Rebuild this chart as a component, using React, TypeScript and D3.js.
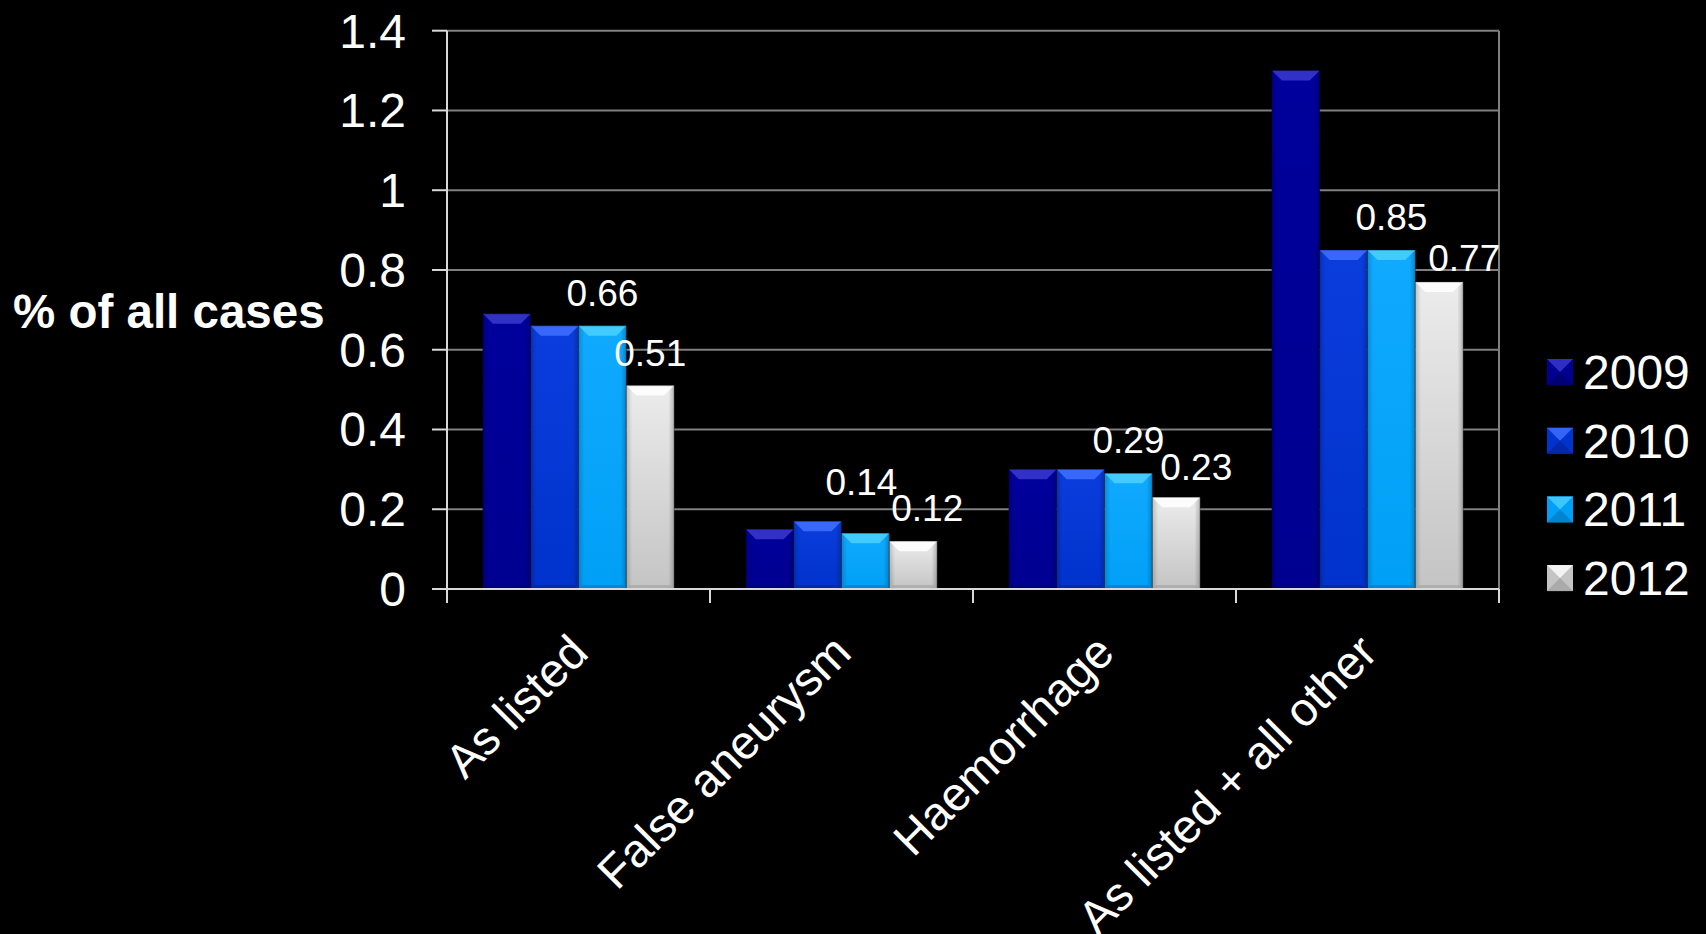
import React from "react";
import * as d3 from "d3";

const categories = ["As listed", "False aneurysm", "Haemorrhage", "As listed + all other"];
const seriesNames = ["2009", "2010", "2011", "2012"];
const values2009 = [0.69, 0.15, 0.3, 1.3];
const values2010 = [0.66, 0.17, 0.3, 0.85];
const values2011 = [0.66, 0.14, 0.29, 0.85];
const values2012 = [0.51, 0.12, 0.23, 0.77];
const yTicks = [0, 0.2, 0.4, 0.6, 0.8, 1, 1.2, 1.4];
const labelledSeries = ["2011", "2012"];
const yTitle = "% of all cases";

// layout / style constants (not data)
const W = 1706;
const H = 934;
const plotLeft = 447;
const plotRight = 1499;
const plotTop = 30.7;
const plotBottom = 589;
const FONT = "'Liberation Sans', Arial, Helvetica, sans-serif";
const seriesStyle: Record<string, { top: string; main: string; dark: string; bevel: string }> = {
  "2009": { top: "#00009c", main: "#000090", dark: "#00006a", bevel: "#3a3ad0" },
  "2010": { top: "#0a3ddc", main: "#0033cc", dark: "#00239a", bevel: "#4070ff" },
  "2011": { top: "#10aaff", main: "#00a0f6", dark: "#0078c0", bevel: "#4cd0ff" },
  "2012": { top: "#ececec", main: "#c4c4c4", dark: "#a0a0a0", bevel: "#ffffff" },
};
// manual nudges of a few data labels, as in the reference [series][category] -> [dx, dy]
const labelNudge: Record<string, [number, number][]> = {
  "2011": [[0, 0], [-4, -18], [0, 0], [0, 0]],
  "2012": [[0, 0], [14, 0], [20, 3], [25, 9]],
};

export default function App() {
  const seriesValues = [values2009, values2010, values2011, values2012];
  const x0 = d3.scaleBand<string>().domain(categories).range([plotLeft, plotRight]).padding(0);
  const x1 = d3
    .scaleBand<string>()
    .domain(seriesNames)
    .range([0, x0.bandwidth()])
    .paddingInner(0)
    .paddingOuter(0.75);
  const y = d3.scaleLinear().domain([0, 1.4]).range([plotBottom, plotTop]);
  const bw = x1.bandwidth();
  const bev = 10;

  return (
    <svg
      width={W}
      height={H}
      style={{ position: "absolute", left: 0, top: 0, background: "#000" }}
      fontFamily={FONT}
    >
      <defs>
        {seriesNames.map((s) => {
          const st = seriesStyle[s];
          return (
            <linearGradient key={s} id={`g${s}`} x1="0" y1="0" x2="0" y2="1">
              <stop offset="0" stopColor={st.top} />
              <stop offset="1" stopColor={st.main} />
            </linearGradient>
          );
        })}
        <linearGradient id="gside" x1="0" y1="0" x2="1" y2="0">
          <stop offset="0" stopColor="#000" stopOpacity={0.18} />
          <stop offset="0.12" stopColor="#000" stopOpacity={0} />
          <stop offset="0.88" stopColor="#000" stopOpacity={0} />
          <stop offset="1" stopColor="#000" stopOpacity={0.22} />
        </linearGradient>
      </defs>
      <rect x={0} y={0} width={W} height={H} fill="#000" />

      {/* gridlines */}
      {yTicks.map((t) => (
        <line key={t} x1={plotLeft} x2={plotRight} y1={y(t)} y2={y(t)} stroke="#7f7f7f" strokeWidth={2} />
      ))}
      <line x1={plotRight} x2={plotRight} y1={plotTop} y2={plotBottom} stroke="#7f7f7f" strokeWidth={2} />

      {/* bars */}
      {categories.map((c, ci) => (
        <g key={c}>
          {seriesNames.map((s, si) => {
            const v = seriesValues[si][ci];
            const bx = (x0(c) as number) + (x1(s) as number);
            const by = y(v);
            const bh = plotBottom - by;
            const st = seriesStyle[s];
            const b = Math.min(bev, bh / 2);
            return (
              <g key={s}>
                <rect x={bx} y={by} width={bw} height={bh} fill={`url(#g${s})`} />
                <rect x={bx} y={by} width={bw} height={bh} fill="url(#gside)" />
                <polygon
                  points={`${bx},${by} ${bx + bw},${by} ${bx + bw - b},${by + b} ${bx + b},${by + b}`}
                  fill={st.bevel}
                  opacity={0.85}
                />
                <polygon
                  points={`${bx},${plotBottom} ${bx + bw},${plotBottom} ${bx + bw - 4},${plotBottom - 4} ${bx + 4},${plotBottom - 4}`}
                  fill={st.dark}
                  opacity={0.6}
                />
                <rect x={bx} y={by} width={bw} height={bh} fill="none" stroke="#000" strokeOpacity={0.35} strokeWidth={1} />
              </g>
            );
          })}
        </g>
      ))}

      {/* data labels */}
      {categories.map((c, ci) =>
        seriesNames.map((s, si) => {
          if (!labelledSeries.includes(s)) return null;
          const v = seriesValues[si][ci];
          const [dx, dy] = labelNudge[s][ci];
          const cx = (x0(c) as number) + (x1(s) as number) + bw / 2;
          return (
            <text
              key={`${c}-${s}`}
              x={cx + dx}
              y={y(v) - 20 + dy}
              fill="#fff"
              fontSize={37}
              textAnchor="middle"
            >
              {d3.format(".2f")(v)}
            </text>
          );
        })
      )}

      {/* axes */}
      <line x1={plotLeft} x2={plotLeft} y1={plotTop} y2={plotBottom} stroke="#d9d9d9" strokeWidth={2} />
      {yTicks.map((t) => (
        <g key={t}>
          <line x1={plotLeft - 15} x2={plotLeft} y1={y(t)} y2={y(t)} stroke="#d9d9d9" strokeWidth={2} />
          <text x={406} y={y(t) + 17} fill="#fff" fontSize={48} textAnchor="end">
            {d3.format("~g")(t)}
          </text>
        </g>
      ))}
      <line x1={plotLeft - 15} x2={plotRight} y1={plotBottom} y2={plotBottom} stroke="#d9d9d9" strokeWidth={2} />
      {[...categories.map((c) => x0(c) as number), plotRight].map((tx, i) => (
        <line key={i} x1={tx} x2={tx} y1={plotBottom} y2={plotBottom + 14} stroke="#d9d9d9" strokeWidth={2} />
      ))}
      {categories.map((c) => {
        const cx = (x0(c) as number) + x0.bandwidth() / 2;
        const px = cx + 12;
        const py = plotBottom + 66;
        return (
          <text
            key={c}
            x={px}
            y={py}
            fill="#fff"
            fontSize={47}
            textAnchor="end"
            transform={`rotate(-45 ${px} ${py})`}
          >
            {c}
          </text>
        );
      })}

      {/* y title */}
      <text x={13} y={328} fill="#fff" fontSize={47.5} fontWeight="bold">
        {yTitle}
      </text>

      {/* legend */}
      {seriesNames.map((s, i) => {
        const ry = 372 + i * 68.7;
        const st = seriesStyle[s];
        const sz = 26;
        const lx = 1547;
        const ly = ry - sz / 2;
        return (
          <g key={s}>
            <rect x={lx} y={ly} width={sz} height={sz} fill={st.main} />
            <polygon points={`${lx},${ly} ${lx + sz},${ly} ${lx + sz / 2},${ly + sz / 2}`} fill={st.bevel} opacity={0.8} />
            <polygon points={`${lx},${ly + sz} ${lx + sz},${ly + sz} ${lx + sz / 2},${ly + sz / 2}`} fill={st.dark} opacity={0.7} />
            <text x={1583} y={ry + 17} fill="#fff" fontSize={48}>
              {s}
            </text>
          </g>
        );
      })}
    </svg>
  );
}
